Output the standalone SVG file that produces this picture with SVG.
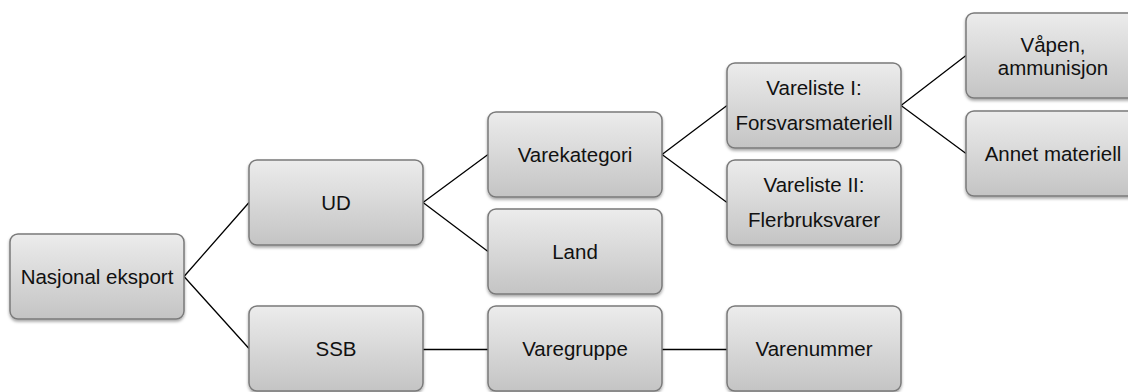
<svg xmlns="http://www.w3.org/2000/svg" width="1128" height="392" viewBox="0 0 1128 392">
<defs>
<linearGradient id="g" x1="0" y1="0" x2="0" y2="1">
<stop offset="0" stop-color="#ececec"/>
<stop offset="1" stop-color="#c4c4c4"/>
</linearGradient>
<filter id="sh" x="-10%" y="-10%" width="125%" height="130%">
<feDropShadow dx="0" dy="2" stdDeviation="1.5" flood-color="#000" flood-opacity="0.35"/>
</filter>
</defs>
<style>
.box{fill:url(#g);stroke:#7a7a7a;stroke-width:1.5;filter:url(#sh)}
.t{font-family:"Liberation Sans",Arial,sans-serif;font-size:20.5px;fill:#111;text-anchor:middle}
.c{stroke:#000;stroke-width:1.3;fill:none}
</style>
<rect width="1128" height="392" fill="#fff"/>
<g id="connectors">
<path class="c" d="M184 276.5L249 202.5M184 276.5L249 348.5"/>
<path class="c" d="M423 202.5L488 154.5M423 202.5L488 251.5"/>
<path class="c" d="M423 349.5L488 349.5"/>
<path class="c" d="M662 154.5L727 105.5M662 154.5L727 202.5"/>
<path class="c" d="M662 349.5L727 349.5"/>
<path class="c" d="M901 105.5L966 55.5M901 105.5L966 153.5"/>
</g>
<g id="n-nasjonal">
<rect class="box" x="10" y="234" width="174" height="85" rx="8"/>
<text class="t" x="97" y="283.5">Nasjonal eksport</text>
</g>
<g id="n-ud">
<rect class="box" x="249" y="160" width="174" height="85" rx="8"/>
<text class="t" x="336" y="209.5">UD</text>
</g>
<g id="n-ssb">
<rect class="box" x="249" y="306" width="174" height="85" rx="8"/>
<text class="t" x="336" y="356">SSB</text>
</g>
<g id="n-varekategori">
<rect class="box" x="488" y="112" width="174" height="85" rx="8"/>
<text class="t" x="575" y="161.5">Varekategori</text>
</g>
<g id="n-land">
<rect class="box" x="488" y="209" width="174" height="85" rx="8"/>
<text class="t" x="575" y="258.5">Land</text>
</g>
<g id="n-varegruppe">
<rect class="box" x="488" y="306" width="174" height="85" rx="8"/>
<text class="t" x="575" y="356">Varegruppe</text>
</g>
<g id="n-vareliste1">
<rect class="box" x="727" y="63" width="174" height="85" rx="8"/>
<text class="t" x="814" y="95">Vareliste I:</text>
<text class="t" x="814" y="130">Forsvarsmateriell</text>
</g>
<g id="n-vareliste2">
<rect class="box" x="727" y="160" width="174" height="85" rx="8"/>
<text class="t" x="814" y="192">Vareliste II:</text>
<text class="t" x="814" y="227">Flerbruksvarer</text>
</g>
<g id="n-varenummer">
<rect class="box" x="727" y="306" width="174" height="85" rx="8"/>
<text class="t" x="814" y="356">Varenummer</text>
</g>
<g id="n-vapen">
<rect class="box" x="966" y="13" width="174" height="85" rx="8"/>
<text class="t" x="1053" y="52">Våpen,</text>
<text class="t" x="1053" y="75">ammunisjon</text>
</g>
<g id="n-annet">
<rect class="box" x="966" y="111" width="174" height="85" rx="8"/>
<text class="t" x="1053" y="160.5">Annet materiell</text>
</g>
</svg>
